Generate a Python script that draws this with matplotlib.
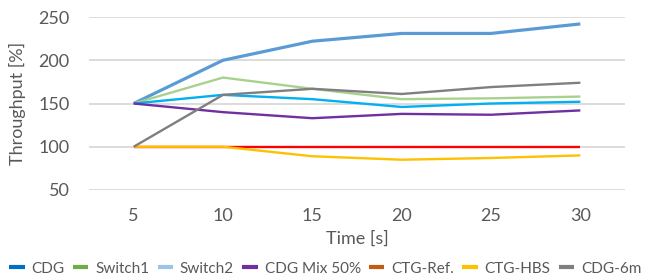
import matplotlib
matplotlib.use('Agg')
import matplotlib.pyplot as plt

# data
times = [5, 10, 15, 20, 25, 30]
cdg = [150, 200, 222, 231, 231, 242]
switch1 = [150, 180, 167, 155, 156, 158]
switch2 = [150, 160, 155, 146, 150, 152]
cdg_mix = [150, 140, 133, 138, 137, 142]
ctg_ref = [100, 100, 100, 100, 100, 100]
ctg_hbs = [100, 100, 89, 85, 87, 90]
cdg_6m = [100, 160, 167, 161, 169, 174]

names = ['CDG', 'Switch1', 'Switch2', 'CDG Mix 50%', 'CTG-Ref.', 'CTG-HBS', 'CDG-6m']
series = [cdg, switch1, switch2, cdg_mix, ctg_ref, ctg_hbs, cdg_6m]
line_colors = ['#5B9BD5', '#A9D18E', '#00B0F0', '#7030A0', '#FF0000', '#FFC000', '#7F7F7F']
legend_colors = ['#0070C0', '#70AD47', '#9DC3E6', '#7030A0', '#C55A11', '#FFC000', '#7F7F7F']
widths = [2.3, 1.7, 1.7, 1.7, 1.7, 1.7, 1.7]

plt.rcParams['font.family'] = ['Lato', 'DejaVu Sans']
text_col = '#595959'

fig = plt.figure(figsize=(6.51, 2.77), dpi=100)
ax = fig.add_axes([89 / 651, 1 - 190 / 277, (625 - 89) / 651, (190 - 17) / 277])

for vals, name, c, w in zip(series, names, line_colors, widths):
    ax.plot(times, vals, color=c, lw=w, label=name, solid_capstyle='butt')

ax.set_xlim(2.5, 32.5)
ax.set_ylim(50, 250)
ax.set_yticks([50, 100, 150, 200, 250])
ax.set_xticks(times)
ax.grid(axis='y', color='#D9D9D9', lw=1.3)
ax.set_axisbelow(True)
for s in ax.spines.values():
    s.set_visible(False)
ax.tick_params(length=0, labelsize=13, labelcolor=text_col)
ax.tick_params(axis='x', pad=13)
ax.tick_params(axis='y', pad=14)
ax.set_xlabel('Time [s]', fontsize=13, color=text_col, labelpad=5)
ax.set_ylabel('Throughput [%]', fontsize=13, color=text_col, labelpad=9)

leg = fig.legend(loc='lower center', bbox_to_anchor=(0.5, -0.045), ncol=7, frameon=False,
                 fontsize=11, handlelength=1.0, handletextpad=0.45, columnspacing=0.55,
                 labelcolor=text_col)
for h, c in zip(leg.legend_handles, legend_colors):
    h.set_color(c)
    h.set_linewidth(3)

fig.savefig('out.png', dpi=100)
